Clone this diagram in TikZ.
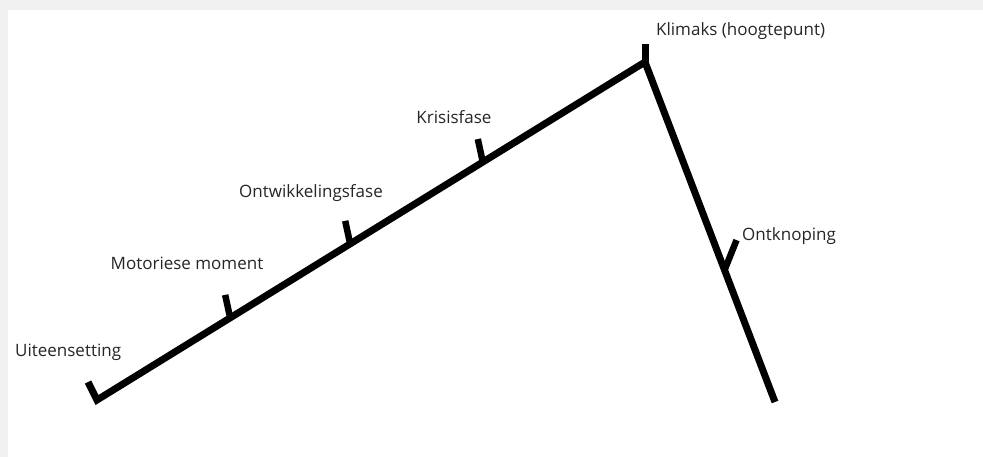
\documentclass[tikz,border=0pt]{standalone}
\usepackage{fontspec}
\setmainfont{Open Sans}
\usetikzlibrary{positioning,calc}
\definecolor{frame}{RGB}{240,240,240}
\tikzset{
  plot/.style={line width=7pt,line cap=butt,line join=miter,black},
  notch/.style={line width=6.5pt,black},
  lbl/.style={font=\fontsize{17}{20}\selectfont,inner sep=0pt,text=black!85},
}

\begin{document}
\begin{tikzpicture}[x=1pt,y=-1pt]
  % background and frame
  \fill[frame] (0,0) rectangle (983,457);
  \fill[white] (8,10) rectangle (983,457);
  \useasboundingbox (0,0) rectangle (983,457);
  % plot line
  \coordinate (begin) at (97,400);
  \coordinate (peak) at (645,62);
  \coordinate (finish) at (775,402);
  \draw[plot] (88,382) -- (begin) -- (peak) -- (finish);
  \draw[plot] (peak) -- ++(0,-18);
  % notches
  \coordinate (motor) at ($(begin)!0.243!(peak)$);
  \coordinate (ontw) at ($(begin)!0.462!(peak)$);
  \coordinate (krisis) at ($(begin)!0.704!(peak)$);
  \coordinate (knoop) at ($(peak)!0.612!(finish)$);
  \foreach \p in {motor,ontw,krisis}
    \draw[notch] (\p) -- ++(-5,-23);
  \draw[notch] (knoop) -- ++(12,-30);
  % labels
  \node[lbl,anchor=west] (uit) at (15,352) {Uiteensetting};
  \node[lbl] (mm) at (187,263) {Motoriese moment};
  \node[lbl] (of) at (311,193) {Ontwikkelingsfase};
  \node[lbl] (kf) at (454,117) {Krisisfase};
  \node[lbl,anchor=west] (kl) at (656,31) {Klimaks (hoogtepunt)};
  \node[lbl,anchor=west] (ok) at (742,236) {Ontknoping};
\end{tikzpicture}
\end{document}
